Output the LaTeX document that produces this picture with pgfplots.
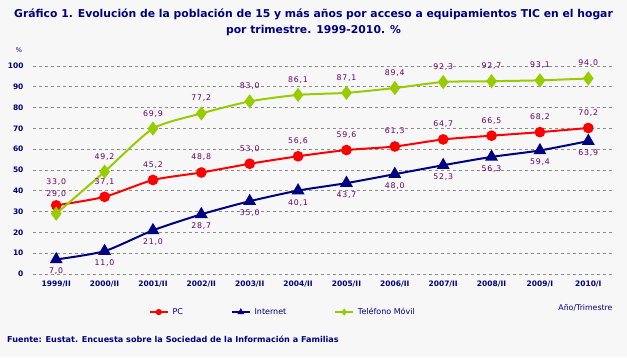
\documentclass[border=0pt]{standalone}
\usepackage{pgfplots}
\pgfplotsset{compat=1.18}
\usepackage{fontspec}
\setmainfont{DejaVu Sans}
\newfontfamily\labfont[LetterSpace=10]{DejaVu Sans}
\definecolor{bg}{HTML}{F7F7F7}
\definecolor{navy}{HTML}{000080}
\definecolor{lab}{HTML}{660066}
\definecolor{pcred}{HTML}{FF0000}
\definecolor{movil}{HTML}{99CC00}
\definecolor{gridc}{HTML}{8C8C8C}
\pgfplotsset{
  labs/.style={draw=none, mark=none, forget plot,
    nodes near coords={\labfont\pgfmathprintnumber[fixed,fixed zerofill,precision=1,use comma,assume math mode=true]{\pgfplotspointmeta}},
    every node near coord/.append style={text=lab, font=\fontsize{7.8}{9}\selectfont, anchor=center, yshift=#1}},
}
\begin{document}
\begin{tikzpicture}
\fill[bg] (0pt,0pt) rectangle (627pt,357pt);
\node[navy, font=\fontsize{10.8}{16}\selectfont\bfseries, align=center] at (313.5pt,335pt) {Gráfico 1. Evolución de la población de 15 y más años por acceso a equipamientos TIC en el hogar\\por trimestre. 1999-2010. \%};
\node[navy, font=\fontsize{6.5}{8}\selectfont] at (19pt,307pt) {\%};
\node[navy, font=\fontsize{7.8}{9}\selectfont, anchor=east] at (616pt,49pt) {Año/Trimestre};
\node[navy, font=\fontsize{8.1}{9}\selectfont\bfseries, anchor=west, inner sep=0pt] at (7pt,18pt) {Fuente: Eustat. Encuesta sobre la Sociedad de la Información a Familias};
\begin{axis}[
  at={(33pt,83pt)}, anchor=south west, scale only axis,
  width=579pt, height=208pt,
  xmin=-0.48, xmax=11.49, ymin=0, ymax=100,
  axis line style={draw=none},
  tick style={draw=none},
  ytick={0,10,...,100},
  xtick={0,...,11},
  xticklabels={1999/II,2000/II,2001/II,2002/II,2003/II,2004/II,2005/II,2006/II,2007/II,2008/II,2009/I,2010/I},
  /pgf/number format/assume math mode=true,
  ticklabel style={text=navy, font=\fontsize{7.5}{9}\selectfont\bfseries},
  yticklabel style={anchor=east, xshift=-6pt},
  xticklabel style={yshift=-3pt},
  ymajorgrids,
  grid style={dash pattern=on 3pt off 3pt, gridc, line width=0.8pt},
  clip=false,
  legend columns=3,
  legend style={at={(rel axis cs:0.200,-0.183)}, anchor=west, draw=none, fill=none, inner sep=0pt,
    font=\fontsize{8}{9}\selectfont, text=navy,
    /tikz/every odd column/.append style={column sep=2pt},
    /tikz/every even column/.append style={column sep=46pt}},
  legend image code/.code={\draw[mark repeat=2,mark phase=2,#1,mark size=2.3pt,line width=1.6pt] plot coordinates {(0pt,0pt) (9pt,0pt) (18pt,0pt)};},
]
\addplot[pcred, line width=2pt, smooth, tension=0.4, mark=*, mark size=4.3pt, mark options={solid}]
  coordinates {(0,33.0) (1,37.1) (2,45.2) (3,48.8) (4,53.0) (5,56.6) (6,59.6) (7,61.3) (8,64.7) (9,66.5) (10,68.2) (11,70.2)};
\addlegendentry{PC}
\addplot[navy, line width=2pt, smooth, tension=0.4, mark=triangle*, mark size=5.5pt, mark options={solid}]
  coordinates {(0,7.0) (1,11.0) (2,21.0) (3,28.7) (4,35.0) (5,40.1) (6,43.7) (7,48.0) (8,52.3) (9,56.3) (10,59.4) (11,63.9)};
\addlegendentry{Internet}
\addplot[movil, line width=2pt, smooth, tension=0.4, mark=diamond*, mark size=5.5pt, mark options={solid}]
  coordinates {(0,29.0) (1,49.2) (2,69.9) (3,77.2) (4,83.0) (5,86.1) (6,87.1) (7,89.4) (8,92.3) (9,92.7) (10,93.1) (11,94.0)};
\addlegendentry{Teléfono Móvil}
% data labels
\addplot[labs=23pt] coordinates {(0,33.0)};
\addplot[labs=15pt] coordinates {(1,37.1) (2,45.2) (3,48.8) (4,53.0) (5,56.6) (6,59.6) (7,61.3) (8,64.7) (9,66.5) (10,68.2) (11,70.2)};
\addplot[labs=-12pt] coordinates {(0,7.0) (1,11.0) (2,21.0) (3,28.7) (4,35.0) (5,40.1) (6,43.7) (7,48.0) (8,52.3) (9,56.3) (10,59.4) (11,63.9)};
\addplot[labs=20pt] coordinates {(0,29.0)};
\addplot[labs=15pt] coordinates {(1,49.2) (2,69.9) (3,77.2) (4,83.0) (5,86.1) (6,87.1) (7,89.4) (8,92.3) (9,92.7) (10,93.1) (11,94.0)};
\end{axis}
\end{tikzpicture}
\end{document}
